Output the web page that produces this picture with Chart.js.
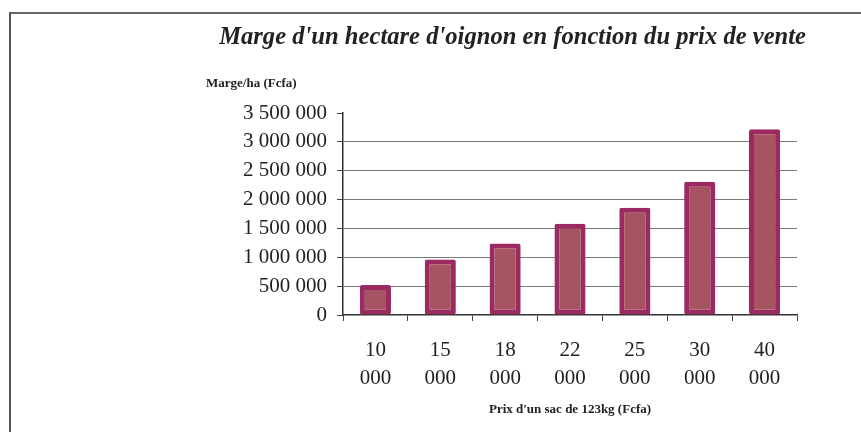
<!DOCTYPE html>
<html>
<head>
<meta charset="utf-8">
<script src="https://cdn.jsdelivr.net/npm/chart.js@4"></script>
<style>
    html, body { margin: 0; padding: 0; background: #fff; }
    #wrap { position: relative; width: 861px; height: 432px; overflow: hidden; }
    #frame { position: absolute; left: 9px; top: 12px; right: -10px; bottom: -10px;
             border-top: 2px solid #666; border-left: 2px solid #555; }
    canvas { position: absolute; left: 0; top: 0; }
</style>
</head>
<body>
<div id="wrap">
    <div id="frame"></div>
    <canvas id="chart" width="861" height="432"></canvas>
</div>
<script>
// prix de vente d'un sac (Fcfa)
const prix = ['10 000', '15 000', '18 000', '22 000', '25 000', '30 000', '40 000'];
// marge par hectare (Fcfa)
const marges = [520000, 960000, 1240000, 1580000, 1860000, 2310000, 3220000];
// graduations de l'axe vertical
const yMax = 3500000;
const yStep = 500000;

const titre = "Marge d'un hectare d'oignon en fonction du prix de vente";
const titreY = 'Marge/ha (Fcfa)';
const titreX = "Prix d'un sac de 123kg (Fcfa)";

const serif = '"Liberation Serif", "Times New Roman", serif';

function formatNombre(v) {
    return String(v).replace(/\B(?=(\d{3})+(?!\d))/g, ' ');
}

// textes libres (titre principal et titre de l'axe Y)
const textesPlugin = {
    id: 'textes',
    afterDraw(chart) {
        const ctx = chart.ctx;
        ctx.save();
        ctx.fillStyle = '#222';
        ctx.font = 'italic bold 24.6px ' + serif;
        ctx.textAlign = 'right';
        ctx.textBaseline = 'alphabetic';
        ctx.fillText(titre, 806, 44);

        ctx.font = 'bold 13px ' + serif;
        ctx.textAlign = 'left';
        ctx.textBaseline = 'middle';
        ctx.fillText(titreY, 206, 84);
        ctx.restore();
    }
};

const ctx = document.getElementById('chart').getContext('2d');
new Chart(ctx, {
    type: 'bar',
    data: {
        labels: prix,
        datasets: [{
            data: marges,
            backgroundColor: '#A65461',
            borderColor: '#9A2A5F',
            borderWidth: 5,
            borderSkipped: false,
            borderRadius: 2,
            barPercentage: 0.48,
            categoryPercentage: 1
        }]
    },
    options: {
        responsive: false,
        animation: false,
        layout: { padding: { left: 0, top: 113, right: 64, bottom: 12 } },
        plugins: {
            legend: { display: false },
            title: { display: false },
            tooltip: { enabled: false }
        },
        scales: {
            y: {
                min: 0,
                max: yMax,
                afterFit(scale) { scale.width = 343; },
                ticks: {
                    stepSize: yStep,
                    padding: 10,
                    color: '#222',
                    font: { family: serif, size: 21 },
                    callback: v => formatNombre(v)
                },
                grid: {
                    color: c => (c.tick && (c.tick.value === yMax || c.tick.value === 0)) ? 'rgba(0,0,0,0)' : '#7a7a7a',
                    tickColor: '#444',
                    tickLength: 6,
                    lineWidth: 1
                },
                border: { color: '#333', width: 1.5 }
            },
            x: {
                afterFit(scale) { scale.height = 105; },
                ticks: {
                    padding: 15,
                    color: '#222',
                    font: { family: serif, size: 21, lineHeight: 1.35 },
                    callback: function (v, i) { return prix[i].split(' '); }
                },
                grid: {
                    drawOnChartArea: false,
                    tickColor: '#444',
                    tickLength: 6
                },
                border: { color: '#333', width: 1.5 },
                title: {
                    display: true,
                    text: titreX,
                    color: '#222',
                    font: { family: serif, size: 13, weight: 'bold' },
                    padding: { top: 4, bottom: 3 }
                }
            }
        }
    },
    plugins: [textesPlugin]
});
</script>
</body>
</html>
